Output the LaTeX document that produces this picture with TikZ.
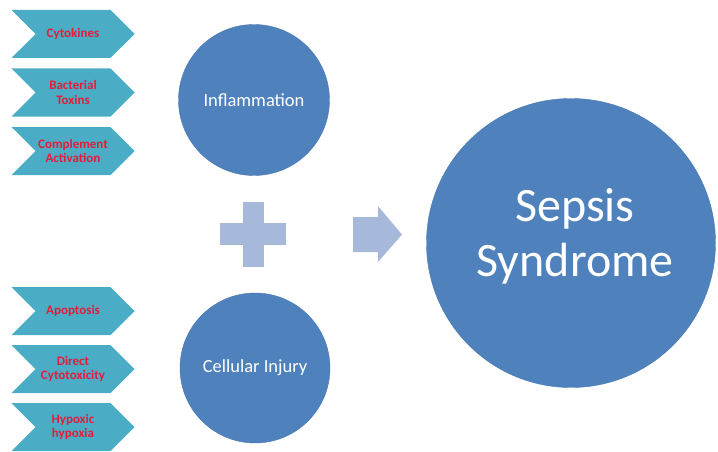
\documentclass[tikz,border=0pt]{standalone}
\usepackage{fontspec}
\setmainfont{Carlito}
\usetikzlibrary{shapes.symbols}

\definecolor{chevfill}{RGB}{75,172,198}
\definecolor{chevtext}{RGB}{228,28,58}
\definecolor{ballfill}{RGB}{79,129,189}
\definecolor{ballline}{RGB}{72,120,178}
\definecolor{signfill}{RGB}{167,185,219}

\tikzset{
	chev/.style={signal, signal to=east, signal from=west, fill=chevfill, draw=none,
		minimum width=123pt, minimum height=48pt, inner sep=0pt, align=center,
		text=chevtext, font=\bfseries\fontsize{13}{14.5}\selectfont},
	ball/.style={circle, fill=ballfill, draw=ballline, line width=0.4pt, inner sep=0pt,
		text=white, align=center},
	sign/.style={fill=signfill, draw=none}
}

\begin{document}
\begin{tikzpicture}[x=1pt, y=-1pt]
	\useasboundingbox (0,0) rectangle (718,452);
	% causes of inflammation
	\node[chev] (cytokines) at (73,34) {Cytokines};
	\node[chev] (toxins) at (73,92.5) {Bacterial\\Toxins};
	\node[chev] (complement) at (73,151) {Complement\\Activation};
	% causes of cellular injury
	\node[chev] (apoptosis) at (73,311) {Apoptosis};
	\node[chev] (cytotox) at (73,369) {Direct\\Cytotoxicity};
	\node[chev] (hypoxia) at (73,427) {Hypoxic\\hypoxia};
	% circles
	\node[ball, minimum size=151pt, font=\fontsize{18.5}{22}\selectfont] (inflam) at (254,100) {Inflammation};
	\node[ball, minimum size=150pt, font=\fontsize{18.5}{22}\selectfont] (injury) at (255,368) {Cellular Injury};
	\node[ball, minimum size=289pt] (sepsis) at (571,243) {};
	\node[text=white, align=center, font=\fontsize{48}{55}\selectfont] (sepsistext) at (575,236) {Sepsis\\Syndrome};
	% plus and arrow
	\fill[sign] (220,223) rectangle (286,245);
	\fill[sign] (243,202) rectangle (264,267);
	\fill[sign] (353,217) -- (378,217) -- (378,206) -- (402,234.5) -- (378,262) -- (378,252) -- (353,252) -- cycle;
\end{tikzpicture}
\end{document}
